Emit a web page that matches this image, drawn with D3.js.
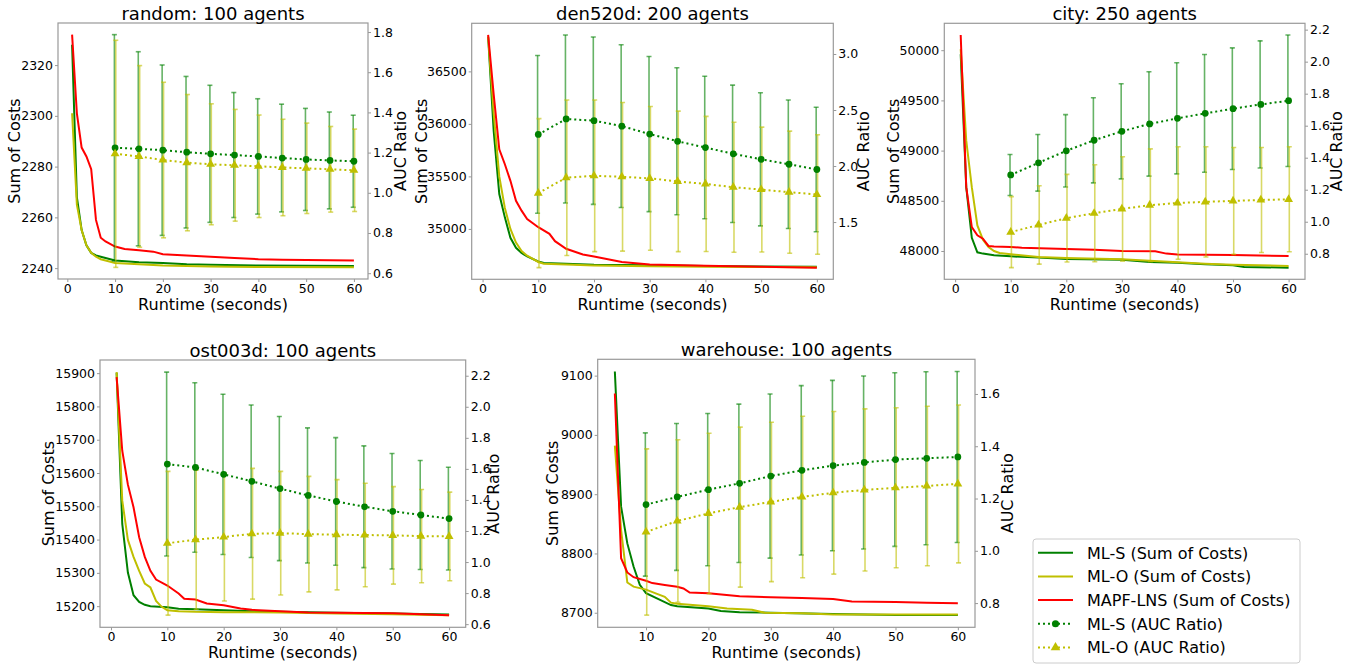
<html>
<head>
<script src="https://d3js.org/d3.v7.min.js"></script>
<style>
  body { margin: 0; background: #fff; }
  text { font-family: "DejaVu Sans", sans-serif; fill: #000; }
</style>
</head>
<body>
<svg id="fig"></svg>
<script>
// sum of costs series: [runtime, value]
const randomMLS = [[1,2328],[2,2268],[3,2255],[4,2249],[5,2246],[6,2245],[7,2244.5],[8,2244],[10,2243],[15,2242.3],[20,2242],[25,2241.5],[30,2241.3],[40,2241],[50,2240.9],[60,2240.8]];
const randomMLO = [[1,2301],[2,2265],[3,2255],[4,2249],[5,2246],[6,2244.5],[7,2243.5],[8,2243],[10,2242],[15,2241.5],[20,2241],[30,2240.6],[40,2240.4],[60,2240.3]];
const randomLNS = [[1,2332],[2,2301],[3,2287.5],[4,2284],[5,2279],[6,2259],[7,2252],[8,2250.5],[10,2248.5],[12,2247.5],[15,2247],[18,2246.5],[20,2245.5],[25,2245],[30,2244.5],[35,2244],[40,2243.5],[45,2243.3],[50,2243.2],[60,2243]];

const denMLS = [[1,36830],[2,35931],[3,35332],[4,35110],[5,34915],[6,34820],[7,34770],[8,34738],[10,34690],[11,34675],[15,34668],[20,34659],[30,34653],[40,34646],[60,34640]];
const denMLO = [[1,36830],[2,36100],[3,35500],[4,35200],[5,35000],[6,34870],[7,34790],[8,34745],[10,34685],[11,34668],[15,34660],[20,34652],[30,34645],[40,34640],[60,34635]];
const denLNS = [[1,36847],[2,36279],[3,35758],[4,35616],[5,35458],[6,35268],[7,35174],[8,35095],[10,35016],[12,34953],[13,34883],[15,34811],[18,34757],[20,34738],[25,34684],[30,34662],[40,34650],[50,34640],[60,34631]];

const cityMLS = [[1,49960],[2,48636],[3,48132],[4,47987],[5,47974],[7,47957],[10,47947],[15,47934],[20,47921],[30,47914],[35,47891],[40,47884],[45,47868],[50,47858],[52,47841],[60,47834]];
const cityMLO = [[1,50010],[2,49099],[3,48636],[4,48255],[5,48113],[6,48040],[7,48000],[8,47980],[10,47967],[15,47940],[20,47930],[30,47917],[40,47887],[45,47874],[50,47864],[60,47851]];
const cityLNS = [[1,50152],[2,48636],[3,48238],[4,48156],[5,48123],[6,48050],[7,48046],[10,48040],[12,48033],[20,48020],[25,48013],[30,48000],[36,47997],[38,47974],[40,47964],[50,47960],[60,47950]];

const ostMLS = [[1,15901],[2,15447],[3,15301],[4,15233],[5,15213],[6,15204],[7,15200],[10,15197],[12,15192],[15,15191],[20,15188],[25,15185],[30,15183],[40,15180],[50,15178],[60,15175]];
const ostMLO = [[1,15903],[2,15517],[3,15399],[4,15348],[5,15306],[6,15268],[7,15256],[8,15216],[9,15198],[10,15188],[12,15185],[15,15183],[20,15182],[30,15181],[40,15178],[50,15176],[60,15173]];
const ostLNS = [[1,15888],[2,15667],[3,15565],[4,15497],[5,15407],[6,15348],[7,15306],[8,15280],[10,15262],[12,15238],[13,15222],[15,15220],[17,15208],[20,15203],[23,15193],[25,15189],[30,15185],[35,15181],[40,15180],[50,15179],[55,15176],[60,15173]];

const whMLS = [[5,9107],[6,8879],[7,8817],[8,8778],[9,8747],[10,8733],[12,8723],[14,8713],[15,8711],[20,8707],[22,8703],[25,8701],[30,8700],[40,8698],[50,8696],[60,8696]];
const whMLO = [[5,8982],[6,8840],[7,8751],[8,8744],[10,8739],[13,8727],[14,8717],[15,8715],[20,8711],[23,8707],[27,8705],[29,8700],[35,8699],[40,8697],[60,8697]];
const whLNS = [[5,9070],[6,8792],[7,8768],[8,8760],[10,8754],[11,8750],[13,8747],[15,8744],[16,8741],[17,8734],[20,8733],[25,8728],[30,8726],[35,8725],[40,8723],[43,8719],[50,8718],[55,8717],[60,8716]];

// AUC ratio at fixed runtimes
const aucTimes = [10,15,20,25,30,35,40,45,50,55,60];
const randomAucS = [1.224,1.219,1.212,1.202,1.194,1.188,1.181,1.173,1.166,1.161,1.157];
const randomErrS = [0.563,0.483,0.424,0.377,0.341,0.311,0.287,0.268,0.254,0.241,0.229];
const randomAucO = [1.194,1.181,1.163,1.150,1.142,1.137,1.132,1.126,1.122,1.117,1.112];
const randomErrO = [0.565,0.452,0.387,0.339,0.301,0.278,0.255,0.240,0.225,0.213,0.205];

const denAucS = [2.282,2.420,2.405,2.356,2.285,2.221,2.165,2.109,2.060,2.016,1.969];
const denErrS = [0.704,0.750,0.747,0.726,0.692,0.656,0.636,0.613,0.594,0.574,0.556];
const denAucO = [1.758,1.896,1.913,1.904,1.890,1.863,1.840,1.811,1.790,1.767,1.746];
const denErrO = [0.665,0.694,0.677,0.663,0.641,0.627,0.603,0.580,0.557,0.545,0.533];

const cityAucS = [1.292,1.368,1.443,1.509,1.565,1.611,1.646,1.677,1.706,1.733,1.756];
const cityErrS = [0.128,0.177,0.226,0.266,0.297,0.326,0.347,0.368,0.380,0.397,0.411];
const cityAucO = [0.935,0.980,1.022,1.053,1.080,1.103,1.117,1.124,1.130,1.136,1.140];
const cityErrO = [0.222,0.245,0.274,0.303,0.326,0.352,0.351,0.344,0.334,0.328,0.328];

const ostAucS = [1.631,1.609,1.565,1.520,1.473,1.429,1.390,1.356,1.327,1.303,1.280];
const ostErrS = [0.592,0.546,0.516,0.491,0.464,0.435,0.411,0.392,0.372,0.351,0.331];
const ostAucO = [1.121,1.144,1.161,1.182,1.186,1.180,1.176,1.174,1.172,1.167,1.165];
const ostErrO = [0.463,0.448,0.412,0.421,0.398,0.372,0.355,0.333,0.314,0.300,0.285];

const whAucS = [1.177,1.206,1.234,1.258,1.286,1.308,1.326,1.338,1.349,1.354,1.359];
const whErrS = [0.274,0.281,0.291,0.303,0.314,0.324,0.326,0.331,0.332,0.331,0.327];
const whAucO = [1.072,1.114,1.143,1.167,1.187,1.206,1.222,1.233,1.241,1.248,1.256];
const whErrO = [0.318,0.311,0.307,0.306,0.305,0.309,0.311,0.310,0.306,0.305,0.302];

// tick labels
const xTicksAll = [0,10,20,30,40,50,60];
const xTicksWh = [10,20,30,40,50,60];
const randomLeftTicks = [2240,2260,2280,2300,2320];
const randomRightTicks = [0.6,0.8,1.0,1.2,1.4,1.6,1.8];
const denLeftTicks = [35000,35500,36000,36500];
const denRightTicks = [1.5,2.0,2.5,3.0];
const cityLeftTicks = [48000,48500,49000,49500,50000];
const cityRightTicks = [0.8,1.0,1.2,1.4,1.6,1.8,2.0,2.2];
const ostLeftTicks = [15200,15300,15400,15500,15600,15700,15800,15900];
const ostRightTicks = [0.6,0.8,1.0,1.2,1.4,1.6,1.8,2.0,2.2];
const whLeftTicks = [8700,8800,8900,9000,9100];
const whRightTicks = [0.8,1.0,1.2,1.4,1.6];

const titles = ["random: 100 agents","den520d: 200 agents","city: 250 agents","ost003d: 100 agents","warehouse: 100 agents"];
const legendLabels = ["ML-S (Sum of Costs)","ML-O (Sum of Costs)","MAPF-LNS (Sum of Costs)","ML-S (AUC Ratio)","ML-O (AUC Ratio)"];

const GREEN = "#008000", YELLOW = "#bfbf00", RED = "#ff0000";

const panels = [
  {title: titles[0], box: [58,23,368,279], mls: randomMLS, mlo: randomMLO, lns: randomLNS,
   aS: randomAucS, eS: randomErrS, aO: randomAucO, eO: randomErrO,
   lt: randomLeftTicks, rt: randomRightTicks, xt: xTicksAll, ll: 44, rl: 32},
  {title: titles[1], box: [471.7,23.3,833.3,279.3], mls: denMLS, mlo: denMLO, lns: denLNS,
   aS: denAucS, eS: denErrS, aO: denAucO, eO: denErrO,
   lt: denLeftTicks, rt: denRightTicks, xt: xTicksAll, ll: 51, rl: 30},
  {title: titles[2], box: [944.3,23.3,1305,279.3], mls: cityMLS, mlo: cityMLO, lns: cityLNS,
   aS: cityAucS, eS: cityErrS, aO: cityAucO, eO: cityErrO,
   lt: cityLeftTicks, rt: cityRightTicks, xt: xTicksAll, ll: 51, rl: 31},
  {title: titles[3], box: [100,360,465.7,627.3], mls: ostMLS, mlo: ostMLO, lns: ostLNS,
   aS: ostAucS, eS: ostErrS, aO: ostAucO, eO: ostErrO,
   lt: ostLeftTicks, rt: ostRightTicks, xt: xTicksAll, ll: 52, rl: 27},
  {title: titles[4], box: [597.7,359.3,975,627.3], mls: whMLS, mlo: whMLO, lns: whLNS,
   aS: whAucS, eS: whErrS, aO: whAucO, eO: whErrO,
   lt: whLeftTicks, rt: whRightTicks, xt: xTicksWh, ll: 46, rl: 32}
];

const svg = d3.select("#fig").attr("width", 1359).attr("height", 665);

function padded(lo, hi) {
  const p = (hi - lo) * 0.05;
  return [lo - p, hi + p];
}

panels.forEach(function(p, i) {
  const [x0, y0, x1, y1] = p.box;
  const lines = [p.mls, p.mlo, p.lns];
  const allT = lines.flat().map(d => d[0]);
  const allV = lines.flat().map(d => d[1]);
  const x = d3.scaleLinear().domain(padded(d3.min(allT), d3.max(allT))).range([x0, x1]);
  const y = d3.scaleLinear().domain(padded(d3.min(allV), d3.max(allV))).range([y1, y0]);
  const lows = p.aS.map((v, k) => v - p.eS[k]).concat(p.aO.map((v, k) => v - p.eO[k]));
  const highs = p.aS.map((v, k) => v + p.eS[k]).concat(p.aO.map((v, k) => v + p.eO[k]));
  const y2 = d3.scaleLinear().domain(padded(d3.min(lows), d3.max(highs))).range([y1, y0]);

  const g = svg.append("g");
  const clipId = "clip" + i;
  svg.append("clipPath").attr("id", clipId).append("rect")
    .attr("x", x0).attr("y", y0).attr("width", x1 - x0).attr("height", y1 - y0);
  const plot = g.append("g").attr("clip-path", "url(#" + clipId + ")");

  // sum of costs lines
  const line = d3.line().x(d => x(d[0])).y(d => y(d[1]));
  [[p.mls, GREEN], [p.mlo, YELLOW], [p.lns, RED]].forEach(function(s) {
    plot.append("path").datum(s[0]).attr("d", line)
      .attr("fill", "none").attr("stroke", s[1]).attr("stroke-width", 2);
  });

  // AUC error bars
  const series = [[p.aS, p.eS, GREEN, -0.7], [p.aO, p.eO, YELLOW, 0.7]];
  series.forEach(function(s) {
    const eg = plot.append("g").attr("stroke", s[2]).attr("stroke-opacity", 0.6).attr("stroke-width", 1.6);
    aucTimes.forEach(function(t, k) {
      const cx = x(t) + s[3];
      const top = y2(s[0][k] + s[1][k]), bot = y2(s[0][k] - s[1][k]);
      eg.append("line").attr("x1", cx).attr("x2", cx).attr("y1", top).attr("y2", bot);
      eg.append("line").attr("x1", cx - 2.5).attr("x2", cx + 2.5).attr("y1", top).attr("y2", top);
      eg.append("line").attr("x1", cx - 2.5).attr("x2", cx + 2.5).attr("y1", bot).attr("y2", bot);
    });
  });
  // AUC dotted lines and markers
  const aline = d3.line().x(d => x(d[0])).y(d => y2(d[1]));
  series.forEach(function(s, si) {
    const pts = aucTimes.map((t, k) => [t, s[0][k]]);
    plot.append("path").datum(pts).attr("d", aline)
      .attr("fill", "none").attr("stroke", s[2]).attr("stroke-width", 2)
      .attr("stroke-dasharray", "2,3");
    const sym = d3.symbol().type(si === 0 ? d3.symbolCircle : d3.symbolTriangle).size(si === 0 ? 36 : 34);
    plot.selectAll(null).data(pts).enter().append("path")
      .attr("d", sym).attr("fill", s[2])
      .attr("transform", d => "translate(" + x(d[0]) + "," + y2(d[1]) + ")");
  });

  // frame
  g.append("rect").attr("x", x0).attr("y", y0).attr("width", x1 - x0).attr("height", y1 - y0)
    .attr("fill", "none").attr("stroke", "#999").attr("stroke-width", 1.2);

  // axes
  const styleAxis = function(a) {
    a.select(".domain").remove();
    a.selectAll(".tick line").attr("stroke", "#999");
    a.selectAll(".tick text").style("font-family", "'DejaVu Sans', sans-serif").style("font-size", "12.5px").attr("fill", "#222");
  };
  g.append("g").attr("transform", "translate(0," + y1 + ")")
    .call(d3.axisBottom(x).tickValues(p.xt).tickSize(3).tickPadding(2).tickFormat(d3.format("d"))).call(styleAxis);
  g.append("g").attr("transform", "translate(" + x0 + ",0)")
    .call(d3.axisLeft(y).tickValues(p.lt).tickSize(3).tickPadding(2).tickFormat(d3.format("d"))).call(styleAxis);
  g.append("g").attr("transform", "translate(" + x1 + ",0)")
    .call(d3.axisRight(y2).tickValues(p.rt).tickSize(3).tickPadding(2).tickFormat(d3.format(".1f"))).call(styleAxis);

  // titles and labels
  const cx = (x0 + x1) / 2, cy = (y0 + y1) / 2;
  g.append("text").attr("x", cx).attr("y", y0 - 3.5).attr("text-anchor", "middle")
    .style("font-size", "18px").text(p.title);
  g.append("text").attr("x", cx).attr("y", y1 + 30.5).attr("text-anchor", "middle")
    .style("font-size", "16px").text("Runtime (seconds)");
  g.append("text").attr("transform", "translate(" + (x0 - p.ll + 6) + "," + cy + ") rotate(-90)")
    .attr("text-anchor", "middle").style("font-size", "16px").text("Sum of Costs");
  g.append("text").attr("transform", "translate(" + (x1 + p.rl + 6) + "," + cy + ") rotate(-90)")
    .attr("text-anchor", "middle").style("font-size", "16px").text("AUC Ratio");
});

// legend
const lg = svg.append("g").attr("transform", "translate(1033,539)");
lg.append("rect").attr("width", 267).attr("height", 124).attr("rx", 3)
  .attr("fill", "#fff").attr("stroke", "#ccc").attr("stroke-width", 1);
const legendStyles = [
  {c: GREEN, dash: null, m: null},
  {c: YELLOW, dash: null, m: null},
  {c: RED, dash: null, m: null},
  {c: GREEN, dash: "2,3", m: d3.symbolCircle},
  {c: YELLOW, dash: "2,3", m: d3.symbolTriangle}
];
legendLabels.forEach(function(lab, k) {
  const yy = 13.7 + k * 23.7;
  const st = legendStyles[k];
  const ln = lg.append("line").attr("x1", 5).attr("x2", 40).attr("y1", yy).attr("y2", yy)
    .attr("stroke", st.c).attr("stroke-width", 2);
  if (st.dash) ln.attr("stroke-dasharray", st.dash);
  if (st.m) lg.append("path").attr("d", d3.symbol().type(st.m).size(40)())
    .attr("fill", st.c).attr("transform", "translate(22.5," + yy + ")");
  lg.append("text").attr("x", 54).attr("y", yy + 5.8).style("font-size", "16px").text(lab);
});
</script>
</body>
</html>
